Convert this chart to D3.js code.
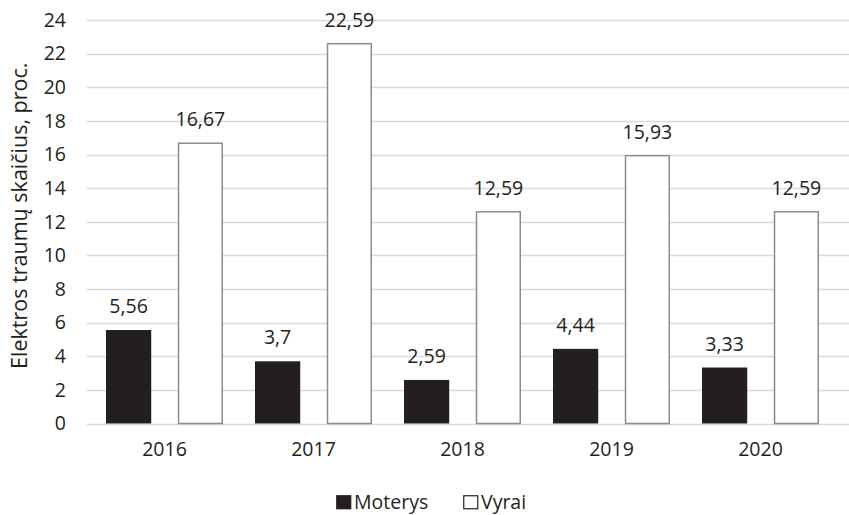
<!DOCTYPE html>
<html>
<head>
<meta charset="utf-8">
<script src="https://cdn.jsdelivr.net/npm/d3@7"></script>
<style>
  html, body { margin: 0; padding: 0; background: #fff; }
  svg { display: block; font-family: "Open Sans", sans-serif; }
</style>
</head>
<body>
<svg id="chart" width="849" height="515"></svg>
<script>
// Electrical injuries by sex, share of all cases (%)
const years = ["2016", "2017", "2018", "2019", "2020"];
const seriesNames = ["Moterys", "Vyrai"];
const moterys = [5.56, 3.7, 2.59, 4.44, 3.33];
const vyrai = [16.67, 22.59, 12.59, 15.93, 12.59];
const yTicks = [0, 2, 4, 6, 8, 10, 12, 14, 16, 18, 20, 22, 24];
const yTitle = "Elektros traumų skaičius, proc.";

const seriesValues = [moterys, vyrai];
const fills = ["#231f20", "#ffffff"];
const strokes = ["none", "#8c8c8c"];
const textColor = "#231f20";
const fontSize = 19.5;

const svg = d3.select("#chart");
const plot = { left: 90, right: 835, top: 20, bottom: 423.5 };

const y = d3.scaleLinear().domain([0, 24]).range([plot.bottom, plot.top]);
const x0 = d3.scaleBand().domain(years).range([plot.left, plot.right]).padding(0);
const x1 = d3.scaleBand().domain(seriesNames)
  .range([16, x0.bandwidth() - 16]).paddingInner(0.37).paddingOuter(0);

// horizontal gridlines
svg.append("g").selectAll("line").data(yTicks).join("line")
  .attr("x1", 87).attr("x2", 849)
  .attr("y1", d => Math.round(y(d)) + 0.5).attr("y2", d => Math.round(y(d)) + 0.5)
  .attr("stroke", "#d9d9d9").attr("stroke-width", 1.5);

// y axis tick labels
const yAxis = d3.axisLeft(y).tickValues(yTicks).tickSize(0).tickPadding(21);
const gy = svg.append("g").attr("transform", `translate(87,0)`).call(yAxis);
gy.select(".domain").remove();
gy.selectAll("text").attr("font-size", fontSize).attr("fill", textColor)
  .attr("font-family", "'Open Sans', sans-serif");

// x axis category labels
const xAxis = d3.axisBottom(x0).tickSize(0).tickPadding(19);
const gx = svg.append("g").attr("transform", `translate(0,${plot.bottom})`).call(xAxis);
gx.select(".domain").remove();
gx.selectAll("text").attr("font-size", fontSize).attr("fill", textColor)
  .attr("font-family", "'Open Sans', sans-serif");

// bars
const rows = years.map((yr, i) => ({ yr, vals: seriesNames.map((s, j) => ({ s, j, v: seriesValues[j][i] })) }));
const groups = svg.append("g").selectAll("g").data(rows).join("g")
  .attr("transform", d => `translate(${x0(d.yr)},0)`);

groups.selectAll("rect").data(d => d.vals).join("rect")
  .attr("x", d => x1(d.s) + (d.j === 1 ? 0.75 : 0))
  .attr("width", d => x1.bandwidth() - (d.j === 1 ? 1.5 : 0))
  .attr("y", d => y(d.v))
  .attr("height", d => y(0) - y(d.v))
  .attr("fill", d => fills[d.j])
  .attr("stroke", d => strokes[d.j])
  .attr("stroke-width", 1.5);

// value labels
groups.selectAll("text.val").data(d => d.vals).join("text")
  .attr("class", "val")
  .attr("x", d => x1(d.s) + x1.bandwidth() / 2)
  .attr("y", d => y(d.v) - 17)
  .attr("text-anchor", "middle")
  .attr("font-size", fontSize)
  .attr("fill", textColor)
  .text(d => String(d.v).replace(".", ","));

// y axis title
svg.append("text")
  .attr("transform", `translate(27,${(plot.top + plot.bottom) / 2 - 6}) rotate(-90)`)
  .attr("text-anchor", "middle")
  .attr("font-size", 21.5)
  .attr("fill", textColor)
  .text(yTitle);

// legend
const legendX = [336, 463];
const legend = svg.append("g").selectAll("g").data(seriesNames).join("g")
  .attr("transform", (d, i) => `translate(${legendX[i]},495)`);
legend.append("rect")
  .attr("x", 0.75).attr("y", 0.75).attr("width", 14).attr("height", 13)
  .attr("fill", (d, i) => fills[i])
  .attr("stroke", (d, i) => i === 0 ? fills[0] : "#231f20")
  .attr("stroke-width", 1.2);
legend.append("text")
  .attr("x", 18).attr("y", 14)
  .attr("font-size", 19.5)
  .attr("fill", textColor)
  .text(d => d);
</script>
</body>
</html>
